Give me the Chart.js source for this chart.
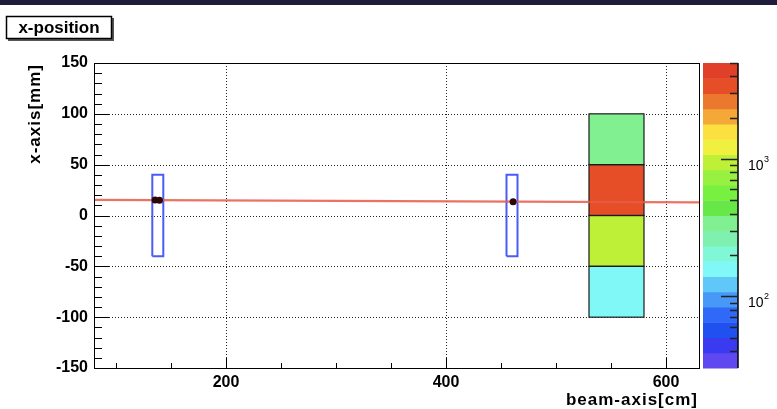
<!DOCTYPE html>
<html>
<head>
<meta charset="utf-8">
<script src="https://cdn.jsdelivr.net/npm/chart.js@4/dist/chart.umd.min.js"></script>
<style>
  html, body { margin: 0; padding: 0; background: #fff; overflow: hidden; }
  #wrap { position: relative; width: 777px; height: 409px; }
</style>
</head>
<body>
<div id="wrap"><canvas id="c" width="777" height="409"></canvas></div>
<script>
// Fitted track (beam-axis cm -> x mm)
const trackX = [80, 630];
const trackY = [15.4, 13.0];

// Reconstructed hits
const hitX = [135.5, 139.5, 461];
const hitY = [15.3, 15.1, 13.6];

// Tracker planes: extent along the beam and across x
const planeX0 = [133, 455];
const planeX1 = [143, 465];
const planeY0 = [-40, -40];
const planeY1 = [40, 40];

// Calorimeter cells: beam extent, x bin edges and counts per bin
const cellX0 = [530];
const cellX1 = [580];
const cellYEdges = [-100, -50, 0, 50, 100];
const cellCounts = [155, 930, 3400, 330];

// Axis ranges and tick values
const xRange = [80, 630];
const yRange = [-150, 150];
const xTicks = [200, 400, 600];
const yTicks = [-150, -100, -50, 0, 50, 100, 150];
const xMinorStep = 50;
const yMinorStep = 10;
const zRange = [30, 5000];
const zMajor = [100, 1000];
const zMinor = [40, 50, 60, 70, 80, 90, 200, 300, 400, 500, 600, 700, 800, 900, 2000, 3000, 4000, 5000];

// Rainbow palette, bottom (low) to top (high)
const palette = [
  '#6048f0', '#3a3af0', '#2050f0', '#3068f8', '#4898f8',
  '#60c8f8', '#80f8f8', '#80f8d8', '#80f0b0', '#80f090',
  '#68e848', '#78f040', '#98f040', '#bef038', '#f0f040',
  '#fce040', '#f4a838', '#ec7830', '#e64e28', '#e04028'
];

const FONT = '"Liberation Sans", Arial, Helvetica, sans-serif';
const BAR = { left: 703, right: 738 };

function colorFor(v) {
  const l0 = Math.log10(zRange[0]), l1 = Math.log10(zRange[1]);
  let i = Math.floor((Math.log10(v) - l0) / (l1 - l0) * palette.length);
  i = Math.max(0, Math.min(palette.length - 1, i));
  return palette[i];
}

function range(a, b, step) {
  const out = [];
  for (let v = a; v <= b + 1e-9; v += step) out.push(Math.round(v * 1000) / 1000);
  return out;
}

const decor = {
  id: 'decor',
  beforeDraw(chart) {
    const c = chart.ctx;
    c.save();
    c.fillStyle = '#fff';
    c.fillRect(0, 0, chart.width, chart.height);
    // top strip
    c.fillStyle = '#1e1e3c';
    c.fillRect(0, 0, chart.width, 5);
    // title box with shadow
    c.fillStyle = '#555';
    c.fillRect(8, 18, 106, 23);
    c.fillStyle = '#fff';
    c.fillRect(6, 16, 106, 23);
    c.strokeStyle = '#000';
    c.lineWidth = 1.5;
    c.strokeRect(6.5, 16.5, 105, 22);
    c.fillStyle = '#000';
    c.font = 'bold 17px ' + FONT;
    c.textAlign = 'center';
    c.textBaseline = 'middle';
    c.fillText('x-position', 59, 28);
    c.restore();
  },
  beforeDatasetsDraw(chart) {
    const c = chart.ctx, a = chart.chartArea;
    const xs = chart.scales.x, ys = chart.scales.y;
    c.save();
    // dotted grid
    c.strokeStyle = '#222';
    c.lineWidth = 1;
    c.setLineDash([1, 2]);
    xTicks.forEach(v => {
      const px = Math.round(xs.getPixelForValue(v)) + 0.5;
      c.beginPath(); c.moveTo(px, a.top); c.lineTo(px, a.bottom); c.stroke();
    });
    yTicks.forEach(v => {
      const py = Math.round(ys.getPixelForValue(v)) + 0.5;
      c.beginPath(); c.moveTo(a.left, py); c.lineTo(a.right, py); c.stroke();
    });
    c.setLineDash([]);
    // calorimeter cells
    cellX0.forEach((x0, k) => {
      const x1 = cellX1[k];
      const px0 = xs.getPixelForValue(x0), px1 = xs.getPixelForValue(x1);
      cellCounts.forEach((n, i) => {
        const py0 = ys.getPixelForValue(cellYEdges[i]), py1 = ys.getPixelForValue(cellYEdges[i + 1]);
        c.fillStyle = colorFor(n);
        c.fillRect(px0, py1, px1 - px0, py0 - py1);
      });
      cellCounts.forEach((n, i) => {
        const py0 = ys.getPixelForValue(cellYEdges[i]), py1 = ys.getPixelForValue(cellYEdges[i + 1]);
        c.strokeStyle = '#1a1a1a';
        c.lineWidth = 1.2;
        c.strokeRect(px0, py1, px1 - px0, py0 - py1);
      });
    });
    c.restore();
  },
  afterDatasetsDraw(chart) {
    const c = chart.ctx, a = chart.chartArea;
    const xs = chart.scales.x, ys = chart.scales.y;
    c.save();
    // frame
    c.strokeStyle = '#000';
    c.lineWidth = 1;
    c.strokeRect(Math.round(a.left) + 0.5, Math.round(a.top) + 0.5,
                 Math.round(a.right - a.left), Math.round(a.bottom - a.top));
    // y ticks (inside)
    range(yRange[0], yRange[1], yMinorStep).forEach(v => {
      const py = Math.round(ys.getPixelForValue(v)) + 0.5;
      const len = (v % 50 === 0) ? 15 : 8;
      c.beginPath(); c.moveTo(a.left, py); c.lineTo(a.left + len, py); c.stroke();
    });
    // x ticks (inside)
    range(Math.ceil(xRange[0] / xMinorStep) * xMinorStep, xRange[1], xMinorStep).forEach(v => {
      const px = Math.round(xs.getPixelForValue(v)) + 0.5;
      const len = xTicks.includes(v) ? 10 : 5;
      c.beginPath(); c.moveTo(px, a.bottom); c.lineTo(px, a.bottom - len); c.stroke();
    });
    // axis titles
    c.fillStyle = '#000';
    c.font = 'bold 17px ' + FONT;
    c.letterSpacing = '1px';
    c.textAlign = 'right';
    c.textBaseline = 'alphabetic';
    c.fillText('beam-axis[cm]', a.right - 1, 405);
    c.save();
    c.translate(40, a.top + 1);
    c.rotate(-Math.PI / 2);
    c.textAlign = 'right';
    c.fillText('x-axis[mm]', 0, 0);
    c.restore();
    c.letterSpacing = '0px';
    // colour scale
    const n = palette.length;
    const h = (a.bottom - a.top) / n;
    palette.forEach((col, i) => {
      c.fillStyle = col;
      const y0 = a.bottom - (i + 1) * h;
      c.fillRect(BAR.left, y0, BAR.right - BAR.left, h + 0.5);
    });
    c.strokeStyle = '#000';
    c.lineWidth = 1.5;
    c.beginPath(); c.moveTo(BAR.right, a.top); c.lineTo(BAR.right, a.bottom); c.stroke();
    const l0 = Math.log10(zRange[0]), l1 = Math.log10(zRange[1]);
    const zPix = v => a.bottom - (Math.log10(v) - l0) / (l1 - l0) * (a.bottom - a.top);
    c.strokeStyle = '#222';
    c.lineWidth = 1.5;
    zMinor.forEach(v => {
      const py = Math.round(zPix(v)) + 0.5;
      c.beginPath(); c.moveTo(BAR.right, py); c.lineTo(BAR.right - 8, py); c.stroke();
    });
    zMajor.forEach(v => {
      const py = Math.round(zPix(v)) + 0.5;
      c.beginPath(); c.moveTo(BAR.right, py); c.lineTo(BAR.right - 17, py); c.stroke();
      const exp = Math.round(Math.log10(v));
      c.fillStyle = '#000';
      c.textAlign = 'left';
      c.textBaseline = 'alphabetic';
      c.font = '14px ' + FONT;
      c.fillText('10', 748, py + 10);
      c.font = '9px ' + FONT;
      c.fillText(String(exp), 764, py + 2);
    });
    c.restore();
  }
};

const planeSets = planeX0.map((x0, i) => ({
  type: 'line',
  data: [
    { x: x0, y: planeY0[i] }, { x: planeX1[i], y: planeY0[i] },
    { x: planeX1[i], y: planeY1[i] }, { x: x0, y: planeY1[i] },
    { x: x0, y: planeY0[i] }
  ],
  borderColor: '#4b5cf6',
  borderWidth: 2,
  pointRadius: 0,
  tension: 0,
  fill: false,
  order: 3
}));

const tickFont = { family: FONT, weight: 'bold', size: 16 };

new Chart(document.getElementById('c'), {
  type: 'scatter',
  data: {
    datasets: [
      ...planeSets,
      {
        type: 'line',
        data: trackX.map((x, i) => ({ x, y: trackY[i] })),
        borderColor: 'rgba(232, 90, 70, 0.85)',
        borderWidth: 2.2,
        pointRadius: 0,
        fill: false,
        order: 2
      },
      {
        type: 'scatter',
        data: hitX.map((x, i) => ({ x, y: hitY[i] })),
        backgroundColor: '#2a0808',
        borderColor: '#000',
        borderWidth: 0,
        pointRadius: 3.5,
        order: 1
      }
    ]
  },
  options: {
    responsive: false,
    animation: false,
    events: [],
    layout: { padding: { left: 0, top: 63, right: 78, bottom: 0 } },
    plugins: { legend: { display: false }, tooltip: { enabled: false }, title: { display: false } },
    scales: {
      x: {
        type: 'linear', min: xRange[0], max: xRange[1],
        afterBuildTicks: s => { s.ticks = xTicks.map(v => ({ value: v })); },
        afterFit: s => { s.height = 41; },
        grid: { display: false, drawTicks: false },
        border: { display: false },
        ticks: { padding: 5, color: '#000', font: tickFont, maxRotation: 0, autoSkip: false }
      },
      y: {
        type: 'linear', min: yRange[0], max: yRange[1],
        afterBuildTicks: s => { s.ticks = yTicks.map(v => ({ value: v })); },
        afterFit: s => { s.width = 94; },
        grid: { display: false, drawTicks: false },
        border: { display: false },
        ticks: { padding: 6, color: '#000', font: tickFont, autoSkip: false }
      }
    }
  },
  plugins: [decor]
});
</script>
</body>
</html>
